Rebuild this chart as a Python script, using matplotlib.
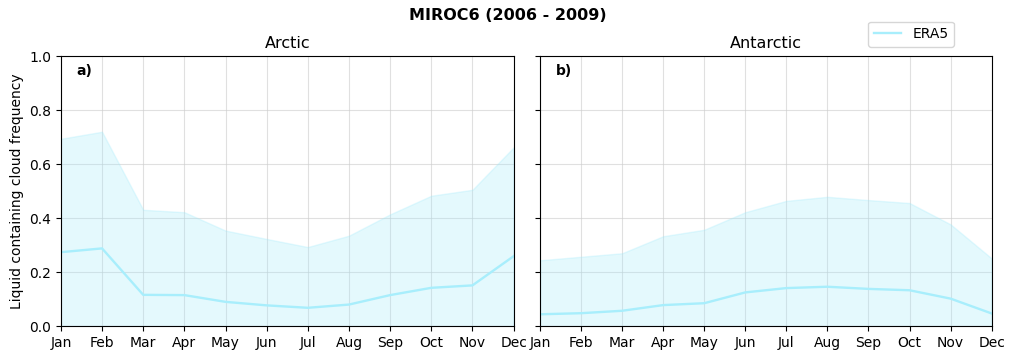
import matplotlib
matplotlib.use("Agg")
import matplotlib.pyplot as plt
import numpy as np

months = ["Jan", "Feb", "Mar", "Apr", "May", "Jun", "Jul", "Aug", "Sep", "Oct", "Nov", "Dec"]

arctic_mean = [0.274, 0.288, 0.116, 0.115, 0.090, 0.077, 0.068, 0.080, 0.115, 0.142, 0.151, 0.259]
arctic_max = [0.694, 0.720, 0.431, 0.422, 0.354, 0.323, 0.293, 0.335, 0.414, 0.483, 0.505, 0.662]
arctic_min = [0, 0, 0, 0, 0, 0, 0, 0, 0, 0, 0, 0]

antarctic_mean = [0.044, 0.048, 0.057, 0.078, 0.085, 0.125, 0.141, 0.146, 0.138, 0.133, 0.102, 0.047]
antarctic_max = [0.244, 0.257, 0.270, 0.333, 0.357, 0.422, 0.464, 0.479, 0.467, 0.456, 0.377, 0.251]
antarctic_min = [0, 0, 0, 0, 0, 0, 0, 0, 0, 0, 0, 0]

line_color = "#a8eefc"
fill_color = "#9eeafb"

fig = plt.figure(figsize=(10.15, 3.6), dpi=100)
ax1 = fig.add_axes([0.060, 0.094, 0.446, 0.750])
ax2 = fig.add_axes([0.532, 0.094, 0.445, 0.750], sharey=ax1)

x = np.arange(len(months))
panels = [(ax1, arctic_mean, arctic_min, arctic_max, "Arctic", "a)"),
          (ax2, antarctic_mean, antarctic_min, antarctic_max, "Antarctic", "b)")]
for ax, mean, lo, hi, title, lab in panels:
    ax.fill_between(x, lo, hi, color=fill_color, alpha=0.27, linewidth=1)
    ax.plot(x, mean, color=line_color, linewidth=1.7, label="ERA5")
    ax.set_xlim(0, 11)
    ax.set_ylim(0, 1)
    ax.set_xticks(x)
    ax.set_xticklabels(months)
    ax.set_yticks([0, 0.2, 0.4, 0.6, 0.8, 1.0])
    ax.set_axisbelow(True)
    ax.grid(True, color="#cccccc", linewidth=0.8, alpha=0.6)
    ax.set_title(title, fontsize=11.5)
    ax.text(0.035, 0.97, lab, transform=ax.transAxes, fontweight="bold", va="top", ha="left", fontsize=10)

plt.setp(ax2.get_yticklabels(), visible=False)
ax1.set_ylabel("Liquid containing cloud frequency", fontsize=10)

fig.suptitle("MIROC6 (2006 - 2009)", fontweight="bold", fontsize=11.5, y=0.978)
handles, labels = ax1.get_legend_handles_labels()
fig.legend(handles, labels, loc="upper right", bbox_to_anchor=(0.947, 0.959), fontsize=10)

fig.savefig("out.png", dpi=100)
